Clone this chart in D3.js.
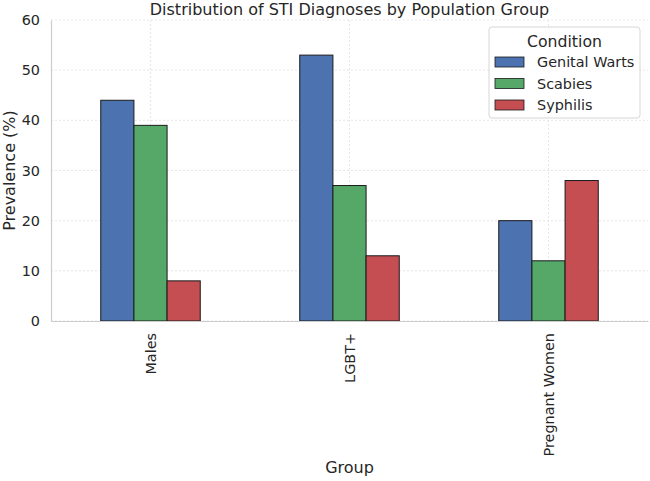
<!DOCTYPE html>
<html>
<head>
<meta charset="utf-8">
<script src="https://cdn.jsdelivr.net/npm/d3@7"></script>
<style>
	body { margin: 0; background: #fff; }
	text { font-family: "DejaVu Sans", sans-serif; fill: #262626; }
</style>
</head>
<body>
<svg id="chart" width="650" height="481"></svg>
<script>
	/* Chart data */
	const groups = ["Males", "LGBT+", "Pregnant Women"];
	const conditions = ["Genital Warts", "Scabies", "Syphilis"];
	const genitalWarts = [44, 53, 20];
	const scabies = [39, 27, 12];
	const syphilis = [8, 13, 28];
	const yTicks = [0, 10, 20, 30, 40, 50, 60];
	const colors = ["#4C72B0", "#55A868", "#C44E52"];

	const seriesValues = [genitalWarts, scabies, syphilis];
	let rows = groups.map(function(g, i) {
		return {
			key: g,
			values: conditions.map(function(c, j) { return { key: c, value: seriesValues[j][i] }; })
		};
	});

	let margin = { top: 20, right: 2, bottom: 160, left: 51 };
	let width = 650 - margin.left - margin.right;
	let height = 481 - margin.top - margin.bottom;

	let svg = d3.select("#chart");
	let g = svg.append("g").attr("transform", "translate(" + margin.left + "," + margin.top + ")");

	let xScale = d3.scaleBand().domain(groups).range([0, width]);
	let innerScale = d3.scaleBand().domain(conditions)
		.range([xScale.bandwidth() * 0.25, xScale.bandwidth() * 0.75]);
	let yScale = d3.scaleLinear().domain([0, 60]).range([height, 0]);
	let colorScale = d3.scaleOrdinal().domain(conditions).range(colors);

	// Grid lines
	g.append("g").selectAll("line.hgrid")
		.data(yTicks)
		.enter().append("line")
		.attr("x1", 0).attr("x2", width)
		.attr("y1", function(d) { return yScale(d); })
		.attr("y2", function(d) { return yScale(d); })
		.attr("stroke", "#e0e0e0")
		.attr("stroke-dasharray", "2,2")
		.attr("stroke-width", 0.8);

	g.append("g").selectAll("line.vgrid")
		.data(groups)
		.enter().append("line")
		.attr("x1", function(d) { return xScale(d) + xScale.bandwidth() / 2; })
		.attr("x2", function(d) { return xScale(d) + xScale.bandwidth() / 2; })
		.attr("y1", 0).attr("y2", height)
		.attr("stroke", "#e0e0e0")
		.attr("stroke-dasharray", "2,2")
		.attr("stroke-width", 0.8);

	// Bars
	let barGroups = g.selectAll(".group")
		.data(rows)
		.enter().append("g")
		.attr("class", "group")
		.attr("transform", function(d) { return "translate(" + xScale(d.key) + ",0)"; });

	barGroups.selectAll("rect")
		.data(function(d) { return d.values; })
		.enter().append("rect")
		.attr("x", function(d) { return innerScale(d.key); })
		.attr("width", innerScale.bandwidth())
		.attr("y", function(d) { return yScale(d.value); })
		.attr("height", function(d) { return height - yScale(d.value); })
		.attr("fill", function(d) { return colorScale(d.key); })
		.attr("stroke", "#1a1a1a")
		.attr("stroke-width", 1);

	// Axes
	let yAxis = g.append("g")
		.call(d3.axisLeft(yScale).tickValues(yTicks).tickSize(0).tickPadding(11));
	yAxis.select(".domain").attr("stroke", "#cccccc").attr("stroke-width", 1.2);
	yAxis.selectAll("text").style("font-size", "14.4px").attr("fill", "#262626");

	let xAxis = g.append("g")
		.attr("transform", "translate(0," + height + ")")
		.call(d3.axisBottom(xScale).tickSize(0));
	xAxis.select(".domain").attr("stroke", "#cccccc").attr("stroke-width", 1.2);
	xAxis.selectAll("text")
		.style("font-size", "14.4px")
		.attr("fill", "#262626")
		.attr("transform", "rotate(-90)")
		.attr("text-anchor", "end")
		.attr("x", -12)
		.attr("y", 0)
		.attr("dy", "0.35em");

	// Title and axis labels
	svg.append("text")
		.attr("x", margin.left + width / 2)
		.attr("y", 15)
		.attr("text-anchor", "middle")
		.style("font-size", "16px")
		.text("Distribution of STI Diagnoses by Population Group");

	svg.append("text")
		.attr("x", margin.left + width / 2)
		.attr("y", 473)
		.attr("text-anchor", "middle")
		.style("font-size", "16px")
		.text("Group");

	svg.append("text")
		.attr("transform", "translate(15," + (margin.top + height / 2) + ") rotate(-90)")
		.attr("text-anchor", "middle")
		.style("font-size", "16px")
		.text("Prevalence (%)");

	// Legend
	let legend = svg.append("g").attr("transform", "translate(489,27)");
	legend.append("rect")
		.attr("width", 151).attr("height", 91)
		.attr("rx", 3)
		.attr("fill", "#ffffff")
		.attr("fill-opacity", 0.8)
		.attr("stroke", "#d6d6d6");
	legend.append("text")
		.attr("x", 75.5).attr("y", 20)
		.attr("text-anchor", "middle")
		.style("font-size", "15.7px")
		.text("Condition");
	let items = legend.selectAll(".item")
		.data(conditions)
		.enter().append("g")
		.attr("class", "item")
		.attr("transform", function(d, i) { return "translate(6," + (30 + i * 21.5) + ")"; });
	items.append("rect")
		.attr("width", 29).attr("height", 10)
		.attr("fill", function(d) { return colorScale(d); })
		.attr("stroke", "#1a1a1a")
		.attr("stroke-width", 0.8);
	items.append("text")
		.attr("x", 42).attr("y", 5)
		.attr("dy", "0.35em")
		.style("font-size", "14.4px")
		.text(function(d) { return d; });
</script>
</body>
</html>
